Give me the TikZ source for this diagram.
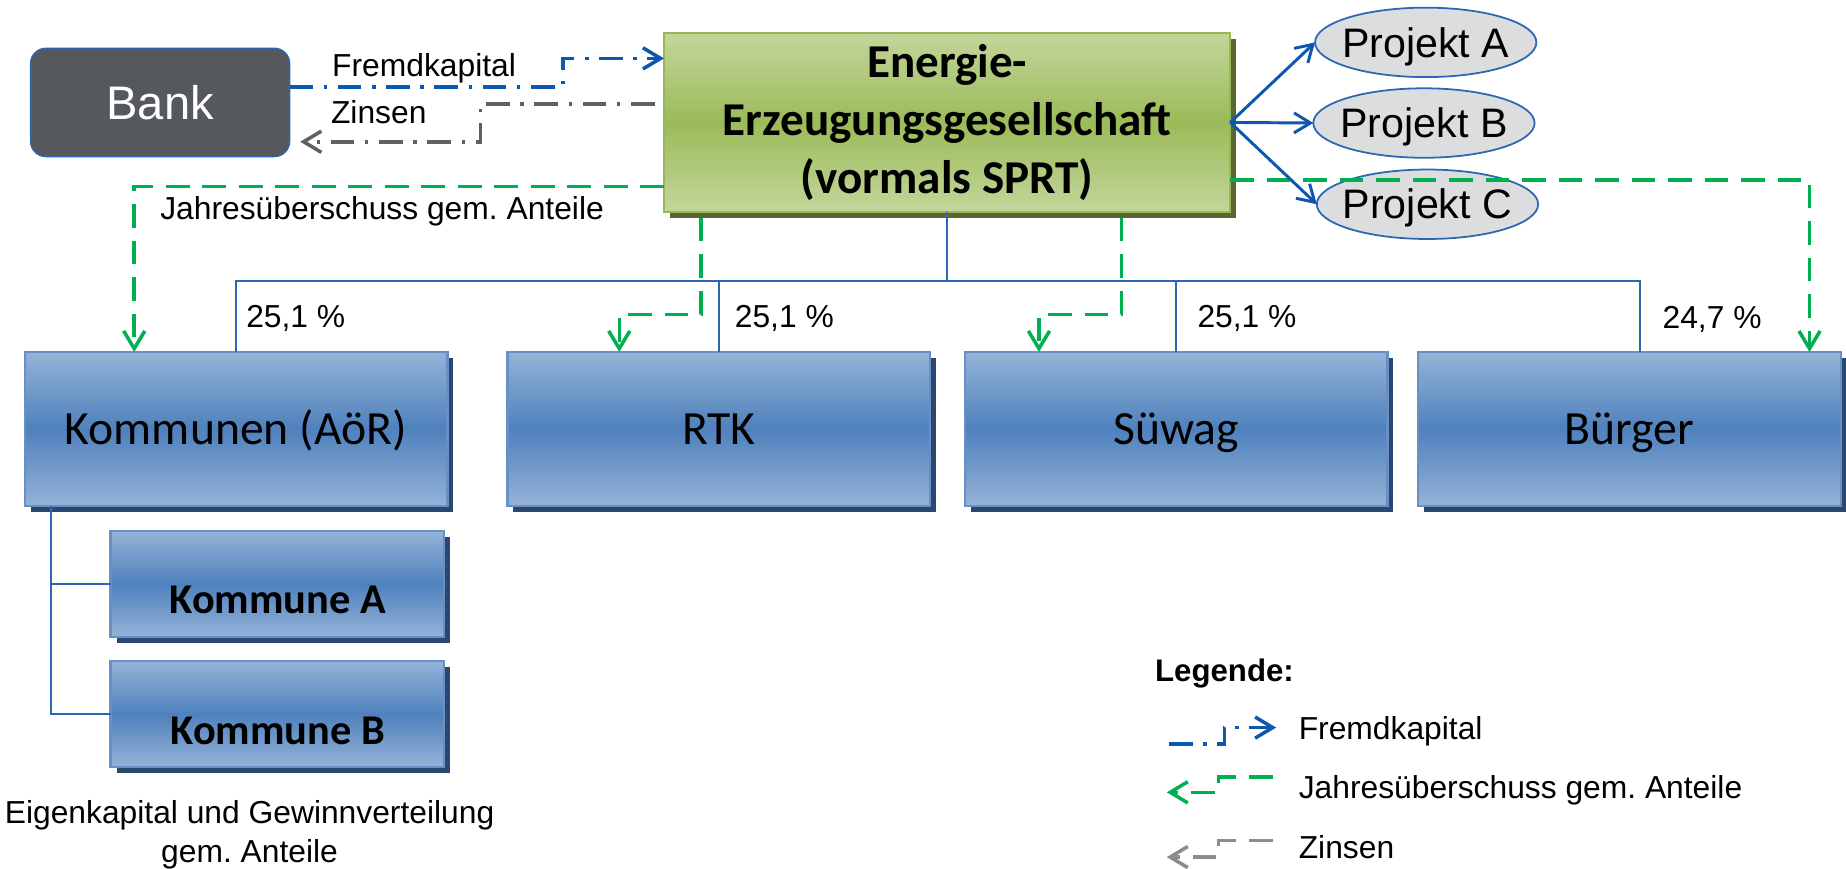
\documentclass[tikz,border=0pt]{standalone}
\usepackage{fontspec}
\setmainfont{Liberation Sans}
\newfontfamily\calfont{Carlito}
\usetikzlibrary{arrows.meta,shadows,shapes.geometric}
\frenchspacing
\definecolor{bankgray}{HTML}{55585D}
\definecolor{conblue}{HTML}{0F56AE}
\definecolor{orgblue}{HTML}{2E66B2}
\definecolor{jgreen}{HTML}{00B050}
\definecolor{zgray}{HTML}{5F6063}
\definecolor{lgray}{HTML}{8C8C8C}
\definecolor{gLight}{HTML}{C3D69B}
\definecolor{gDark}{HTML}{9BBB59}
\definecolor{gBorder}{HTML}{98B857}
\definecolor{gShadow}{HTML}{56682F}
\definecolor{bLight}{HTML}{95B3D7}
\definecolor{bDark}{HTML}{4F81BD}
\definecolor{bBorder}{HTML}{6990C6}
\definecolor{bShadow}{HTML}{2A4770}
\definecolor{ellfill}{HTML}{DCDDDF}
\begin{document}
\begin{tikzpicture}[x=1pt,y=-1pt,
  bankbox/.style={draw=orgblue,line width=1.2pt,fill=bankgray,rounded corners=13pt,
    minimum width=220pt,minimum height=92pt,inner sep=0pt,outer sep=0pt,text=white,
    font=\fontsize{40}{48}\selectfont,text height=29pt,text depth=0pt},
  eegbox/.style={draw=gBorder,line width=2pt,top color=gLight,bottom color=gLight,middle color=gDark,
    drop shadow={shadow xshift=5pt,shadow yshift=-5pt,fill=gShadow,opacity=1},
    minimum width=481pt,minimum height=152pt,inner sep=0pt,outer sep=0pt,align=center,
    font=\calfont\bfseries\fontsize{40}{49}\selectfont},
  bluebox/.style={draw=bBorder,line width=2pt,top color=bLight,bottom color=bLight,middle color=bDark,
    drop shadow={shadow xshift=5pt,shadow yshift=-5pt,fill=bShadow,opacity=1},
    minimum width=359pt,minimum height=131pt,inner sep=0pt,outer sep=0pt,
    font=\calfont\fontsize{40.5}{48}\selectfont,text height=26pt,text depth=0pt},
  subbox/.style={bluebox,minimum width=283pt,minimum height=90pt},
  subtext/.style={font=\calfont\bfseries\fontsize{36}{43}\selectfont,inner sep=0pt,text height=23pt,text depth=0pt},
  projell/.style={ellipse,draw=orgblue,line width=1.5pt,fill=ellfill,minimum width=188pt,minimum height=59pt,
    inner sep=0pt,outer sep=0pt,font=\fontsize{35}{42}\selectfont,text height=25pt,text depth=0pt},
  lbl/.style={font=\fontsize{27}{32}\selectfont,inner sep=0pt,anchor=base west},
  fkline/.style={draw=conblue,line width=3pt,dash pattern=on 20pt off 9pt on 3pt off 9pt,
    -{Straight Barb[length=15pt,width=18pt]}},
  ziline/.style={draw=zgray,line width=3pt,dash pattern=on 20pt off 9pt on 3pt off 9pt,
    -{Straight Barb[length=15pt,width=18pt]}},
  jline/.style={draw=jgreen,line width=3pt,dash pattern=on 20pt off 11pt,
    -{Straight Barb[length=15pt,width=18pt]}},
  orgline/.style={draw=orgblue,line width=1.5pt},
  parrow/.style={draw=conblue,line width=2.5pt,-{Straight Barb[length=14pt,width=17pt]}}
]
\useasboundingbox (0,0) rectangle (1568,738);

% nodes
\node[bankbox] (bank) at (136,87) {Bank};
\node[eegbox] (eeg) at (804.5,104) {Energie-\\Erzeugungsgesellschaft\\(vormals SPRT)};
\node[projell] (pa) at (1211,36) {\makebox[0pt]{Projekt A}};
\node[projell] (pb) at (1209.5,104.5) {\makebox[0pt]{Projekt B}};
\node[projell] (pc) at (1212.5,173.5) {\makebox[0pt]{Projekt C}};

\node[bluebox] (kom) at (200.5,364.5) {Kommunen (AöR)};
\node[bluebox] (rtk) at (610.5,364.5) {RTK};
\node[bluebox] (suw) at (999,364.5) {Süwag};
\node[bluebox] (bur) at (1384,364.5) {Bürger};
\node[subbox] (ka) at (235.5,496) {};
\node[subbox] (kb) at (235.5,606.5) {};
\node[subtext] (kat) at (236,510) {Kommune A};
\node[subtext] (kbt) at (236,620.5) {Kommune B};

% labels
\node[lbl] (lfk) at (282,64.6) {Fremdkapital};
\node[lbl] (lzi) at (281,105) {Zinsen};
\node[lbl] (lja) at (136,186.4) {Jahresüberschuss gem. Anteile};
\node[lbl] (p1) at (209,278) {25,1 \%};
\node[lbl] (p2) at (624,278) {25,1 \%};
\node[lbl] (p3) at (1017,278) {25,1 \%};
\node[lbl] (p4) at (1412,279) {24,7 \%};
\node[font=\fontsize{27}{32.5}\selectfont,inner sep=0pt,align=center] (eig) at (212,709)
  {Eigenkapital und Gewinnverteilung\\gem. Anteile};

% org chart lines
\coordinate (oh) at (0,239);
\coordinate (ob) at (1393,239);
\draw[orgline] (eeg.south) -- (eeg.south |- oh);
\draw[orgline] (kom.north) -- (kom.north |- oh) -- (ob) -- (ob |- bur.north);
\draw[orgline] (rtk.north) -- (rtk.north |- oh);
\draw[orgline] (suw.north) -- (suw.north |- oh);
\coordinate (tr) at (43,0);
\draw[orgline] (tr |- kom.south) -- (tr |- kb.west) -- (kb.west);
\draw[orgline] (tr |- ka.west) -- (ka.west);

% Fremdkapital / Zinsen
\coordinate (fk1) at (478,73.7);
\coordinate (fk2) at (478,49.6);
\draw[fkline] (bank.east |- fk1) -- (fk1) -- (fk2) -- (eeg.west |- fk2);
\coordinate (zi1) at (408,88.4);
\coordinate (zi2) at (408,120.4);
\draw[ziline,shorten <=8pt,shorten >=9pt] (eeg.west |- zi1) -- (zi1) -- (zi2) -- (bank.east |- zi2);

% Jahresueberschuss
\coordinate (jl) at (114,158.6);
\draw[jline] (eeg.west |- jl) -- (jl) -- (jl |- kom.north);
\coordinate (jr1) at (595.5,267);
\coordinate (jr2) at (526,267);
\draw[jline,shorten <=5pt] (jr1 |- eeg.south) -- (jr1) -- (jr2) -- (jr2 |- rtk.north);
\coordinate (js1) at (952.5,267);
\coordinate (js2) at (882.5,267);
\draw[jline,shorten <=5pt] (js1 |- eeg.south) -- (js1) -- (js2) -- (js2 |- suw.north);
\coordinate (jb) at (1537,153);
\draw[jline] (eeg.east |- jb) -- (jb) -- (jb |- bur.north);

% project arrows
\draw[parrow] (eeg.east) -- (pa.west);
\draw[parrow] (eeg.east) -- (pb.west);
\draw[parrow] (eeg.east) -- (pc.west);

% legend
\node[lbl,font=\bfseries\fontsize{26.5}{32}\selectfont] (leg) at (981,579) {Legende:};
\coordinate (l1a) at (993,632);
\coordinate (l1b) at (1040,632);
\coordinate (l1c) at (1040,618);
\coordinate (l1d) at (1084,618);
\draw[fkline] (l1a) -- (l1b) -- (l1c) -- (l1d);
\node[lbl] (t1) at (1103,628) {Fremdkapital};
\coordinate (l2a) at (1081,660);
\coordinate (l2b) at (1035,660);
\coordinate (l2c) at (1035,673);
\coordinate (l2d) at (991,673);
\draw[jline] (l2a) -- (l2b) -- (l2c) -- (l2d);
\node[lbl] (t2) at (1103,678) {Jahresüberschuss gem. Anteile};
\coordinate (l3a) at (1081,714);
\coordinate (l3b) at (1035,714);
\coordinate (l3c) at (1035,728);
\coordinate (l3d) at (991,728);
\draw[jline,draw=lgray] (l3a) -- (l3b) -- (l3c) -- (l3d);
\node[lbl] (t3) at (1103,729) {Zinsen};
\end{tikzpicture}
\end{document}
